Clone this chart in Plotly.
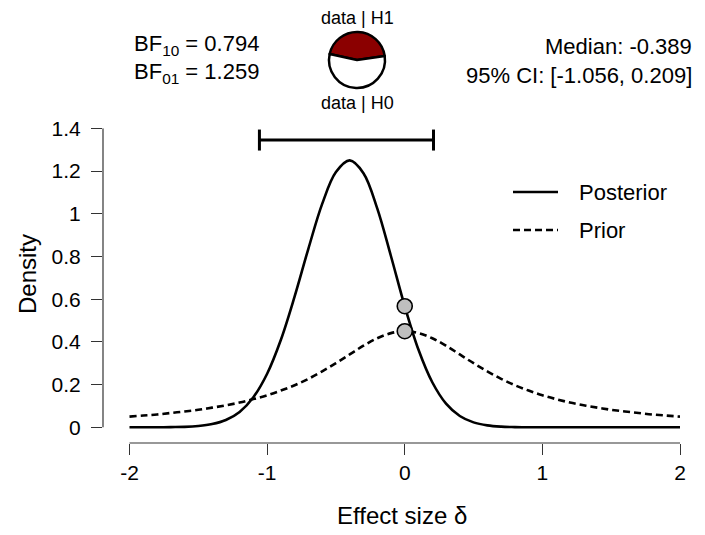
import plotly.graph_objects as go

# ---------------- data ----------------
effect_size = [-2.0, -1.9, -1.8, -1.7, -1.6, -1.5, -1.4, -1.3, -1.2, -1.1,
               -1.0, -0.9, -0.8, -0.7, -0.6, -0.5, -0.4, -0.3, -0.2, -0.1,
               0.0, 0.1, 0.2, 0.3, 0.4, 0.5, 0.6, 0.7, 0.8, 0.9,
               1.0, 1.1, 1.2, 1.3, 1.4, 1.5, 1.6, 1.7, 1.8, 1.9, 2.0]
prior_density = [0.050, 0.055, 0.060, 0.067, 0.074, 0.082, 0.092, 0.103, 0.116, 0.132,
                 0.150, 0.172, 0.197, 0.227, 0.262, 0.300, 0.341, 0.382, 0.417, 0.441,
                 0.450, 0.441, 0.417, 0.382, 0.341, 0.300, 0.262, 0.227, 0.197, 0.172,
                 0.150, 0.132, 0.116, 0.103, 0.092, 0.082, 0.074, 0.067, 0.060, 0.055, 0.050]
posterior_density = [0.000, 0.000, 0.000, 0.001, 0.002, 0.006, 0.015, 0.034, 0.072, 0.141,
                     0.251, 0.410, 0.613, 0.837, 1.046, 1.195, 1.250, 1.190, 1.025, 0.801,
                     0.567, 0.363, 0.211, 0.111, 0.053, 0.023, 0.009, 0.003, 0.001, 0.000,
                     0.000, 0.000, 0.000, 0.000, 0.000, 0.000, 0.000, 0.000, 0.000, 0.000, 0.000]
point_x = [0.0, 0.0]
point_density = [0.567, 0.450]
ci_bounds = [-1.056, 0.209]
ci_level = 1.345
bf10 = 0.794
bf01 = 1.259
median_value = -0.389
x_ticks = [-2, -1, 0, 1, 2]
x_tick_labels = ["-2", "-1", "0", "1", "2"]
y_ticks = [0, 0.2, 0.4, 0.6, 0.8, 1.0, 1.2, 1.4]
y_tick_labels = ["0", "0.2", "0.4", "0.6", "0.8", "1", "1.2", "1.4"]
legend_names = ["Posterior", "Prior"]
pie_labels = ["data | H1", "data | H0"]

# ---------------- layout geometry ----------------
W, H = 705, 535
ML, MR, MT, MB = 103, 25, 0, 92
PW, PH = W - ML - MR, H - MT - MB


def px(xp):
    return (xp - ML) / PW


def py(yp):
    return (PH - yp) / PH


FONT = "Liberation Sans, Arial, sans-serif"
INK = "black"

fig = go.Figure()

# prior (dashed)
fig.add_trace(go.Scatter(x=effect_size, y=prior_density, mode="lines",
                         line=dict(color=INK, width=2.6, dash="7px,4px", shape="spline", smoothing=1.0),
                         name=legend_names[1], showlegend=False, cliponaxis=False, hoverinfo="skip"))
# posterior (solid)
fig.add_trace(go.Scatter(x=effect_size, y=posterior_density, mode="lines",
                         line=dict(color=INK, width=2.6, shape="spline", smoothing=1.0),
                         name=legend_names[0], showlegend=False, cliponaxis=False, hoverinfo="skip"))
# CI bar
fig.add_trace(go.Scatter(x=ci_bounds, y=[ci_level, ci_level], mode="lines+markers",
                         line=dict(color=INK, width=3),
                         marker=dict(symbol="line-ns", size=15, line=dict(color=INK, width=3)),
                         showlegend=False, cliponaxis=False, hoverinfo="skip"))
# points at delta = 0
fig.add_trace(go.Scatter(x=point_x, y=point_density, mode="markers",
                         marker=dict(size=15, color="#bfbfbf", line=dict(color=INK, width=1.6)),
                         showlegend=False, cliponaxis=False, hoverinfo="skip"))

# pie
p_h1 = bf10 / (1 + bf10)
p_h0 = 1 - p_h1
cx, cy, r = 357, 60, 28
fig.add_trace(go.Pie(values=[p_h1, p_h0], labels=pie_labels, sort=False,
                     direction="counterclockwise", rotation=2 - p_h1 * 180,
                     marker=dict(colors=["#8b0000", "white"], line=dict(color=INK, width=2.5)),
                     textinfo="none", hoverinfo="skip", showlegend=False,
                     domain=dict(x=[px(cx - r), px(cx + r)], y=[py(cy + r), py(cy - r)])))

shapes = []
# axis lines (JASP-style offset axes)
shapes.append(dict(type="line", xref="x", yref="paper", x0=x_ticks[0], x1=x_ticks[-1],
                   y0=0, y1=0, line=dict(color="#333", width=1.2)))
shapes.append(dict(type="line", xref="paper", yref="y", x0=0, x1=0,
                   y0=y_ticks[0], y1=y_ticks[-1], line=dict(color="#333", width=1.2)))
# manual legend lines
shapes.append(dict(type="line", xref="paper", yref="paper", x0=px(513), x1=px(558),
                   y0=py(192), y1=py(192), line=dict(color=INK, width=2.6)))
shapes.append(dict(type="line", xref="paper", yref="paper", x0=px(513), x1=px(558),
                   y0=py(230), y1=py(230), line=dict(color=INK, width=2.6, dash="7px,4px")))

ann = []
ann.append(dict(text=legend_names[0], x=px(577), y=py(192), xref="paper", yref="paper",
                xanchor="left", yanchor="middle", showarrow=False, font=dict(size=22, color=INK, family=FONT)))
ann.append(dict(text=legend_names[1], x=px(577), y=py(230), xref="paper", yref="paper",
                xanchor="left", yanchor="middle", showarrow=False, font=dict(size=22, color=INK, family=FONT)))
ann.append(dict(text="BF<sub>10</sub> = %.3f" % bf10, x=px(132), y=py(45), xref="paper", yref="paper",
                xanchor="left", yanchor="middle", showarrow=False, font=dict(size=22, color=INK, family=FONT)))
ann.append(dict(text="BF<sub>01</sub> = %.3f" % bf01, x=px(132), y=py(73), xref="paper", yref="paper",
                xanchor="left", yanchor="middle", showarrow=False, font=dict(size=22, color=INK, family=FONT)))
ann.append(dict(text="Median: %.3f" % median_value, x=px(694), y=py(47), xref="paper", yref="paper",
                xanchor="right", yanchor="middle", showarrow=False, font=dict(size=22, color=INK, family=FONT)))
ann.append(dict(text="95%% CI: [%.3f, %.3f]" % (ci_bounds[0], ci_bounds[1]), x=px(694), y=py(75),
                xref="paper", yref="paper", xanchor="right", yanchor="middle", showarrow=False,
                font=dict(size=22, color=INK, family=FONT)))
ann.append(dict(text=pie_labels[0], x=px(cx), y=py(18), xref="paper", yref="paper",
                xanchor="center", yanchor="middle", showarrow=False, font=dict(size=18, color=INK, family=FONT)))
ann.append(dict(text=pie_labels[1], x=px(cx), y=py(103), xref="paper", yref="paper",
                xanchor="center", yanchor="middle", showarrow=False, font=dict(size=18, color=INK, family=FONT)))
# axis titles (placed where the reference has them)
ann.append(dict(text="Effect size \u03b4", x=px(402.5), y=py(515), xref="paper", yref="paper",
                xanchor="center", yanchor="middle", showarrow=False, font=dict(size=24, color=INK, family=FONT)))
ann.append(dict(text="Density", x=px(27), y=py(274), xref="paper", yref="paper", textangle=-90,
                xanchor="center", yanchor="middle", showarrow=False, font=dict(size=24, color=INK, family=FONT)))

x_left = x_ticks[0] - (129.5 - ML) / 137.6
y_bottom = y_ticks[0] - (443 - 427.3) / 213.6

fig.update_layout(
    width=W, height=H, margin=dict(l=ML, r=MR, t=MT, b=MB, autoexpand=False),
    paper_bgcolor="white", plot_bgcolor="white",
    font=dict(family=FONT, color=INK),
    shapes=shapes, annotations=ann, showlegend=False,
    xaxis=dict(range=[x_left, x_ticks[-1]], tickmode="array", tickvals=x_ticks, ticktext=x_tick_labels,
               ticks="outside", ticklen=11, tickwidth=1.2, tickcolor="#333", showline=False,
               showgrid=False, zeroline=False, tickfont=dict(size=21, color=INK),
               ticklabelstandoff=0, automargin=False),
    yaxis=dict(domain=[0, py(128.3)], range=[y_bottom, y_ticks[-1]], tickmode="array",
               tickvals=y_ticks, ticktext=y_tick_labels,
               ticks="outside", ticklen=11, tickwidth=1.2, tickcolor="#333", showline=False,
               showgrid=False, zeroline=False, tickfont=dict(size=21, color=INK),
               ticklabelstandoff=6, automargin=False),
)

fig.write_html("out.html")
